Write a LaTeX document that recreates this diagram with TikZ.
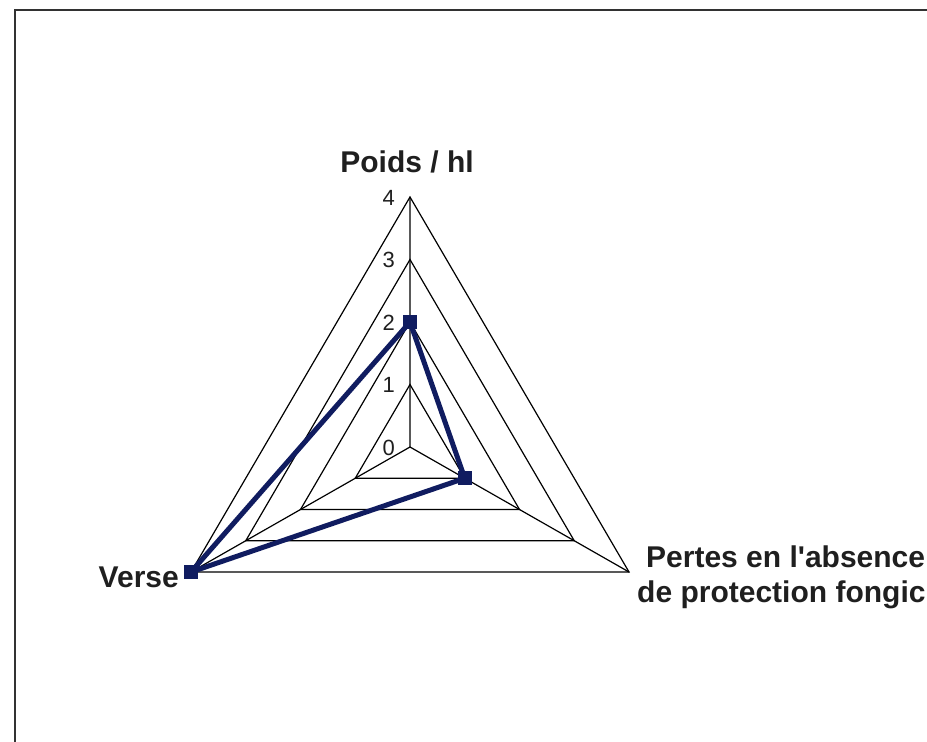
\documentclass[tikz,border=0pt]{standalone}
\usepackage{fontspec}
\setmainfont{Liberation Sans}
\usetikzlibrary{calc}
\definecolor{seriesblue}{RGB}{16,28,96}
\definecolor{framegray}{RGB}{50,50,50}
\tikzset{
  grid line/.style={draw=black, line width=1.2pt},
  series line/.style={draw=seriesblue, line width=5pt, line join=round},
  series mark/.style={rectangle, fill=seriesblue, minimum size=14pt, inner sep=0pt},
  axis label/.style={font=\fontsize{30}{35}\selectfont\bfseries, text=black!88, inner sep=0pt},
  tick label/.style={font=\fontsize{22}{26}\selectfont, text=black!88, inner sep=0pt, anchor=east},
}

\begin{document}
\begin{tikzpicture}[x=1pt, y=1pt]
    \useasboundingbox (-410,-295) rectangle (517,447);
    \draw[framegray, line width=2.8pt] (-395,-330) rectangle (540,437);

    % axes and grid
    \coordinate (O) at (0,0);
    \coordinate (top) at (0,250);
    \coordinate (right) at (219,-125);
    \coordinate (left) at (-219,-125);
    \foreach \k in {1,...,4}
        \draw[grid line] ($(O)!\k/4!(top)$) -- ($(O)!\k/4!(right)$) -- ($(O)!\k/4!(left)$) -- cycle;
    \draw[grid line] (O) -- (top) (O) -- (right) (O) -- (left);

    % scale
    \foreach \k in {0,...,4}
        \node[tick label] (tick\k) at (-15,{62.5*\k-0.5}) {\k};

    % series
    \coordinate (p1) at ($(O)!0.5!(top)$);
    \coordinate (p2) at ($(O)!0.25!(right)$);
    \coordinate (p3) at (left);
    \draw[series line] (p1) -- (p2) -- (p3) -- cycle;
    \node[series mark] (poids) at (p1) {};
    \node[series mark] (pertes) at (p2) {};
    \node[series mark] (verse) at (p3) {};

    % labels
    \node[axis label, anchor=base] (poidslbl) at (-3,274) {Poids / hl};
    \node[axis label, anchor=base east] (verselbl) at (-231,-140) {Verse};
    \node[axis label, anchor=base west] (perteslbl) at (236,-120) {Pertes en l\textquotesingle absence};
    \node[axis label, anchor=base west] (fongiclbl) at (227,-155) {de protection fongic};
\end{tikzpicture}
\end{document}
